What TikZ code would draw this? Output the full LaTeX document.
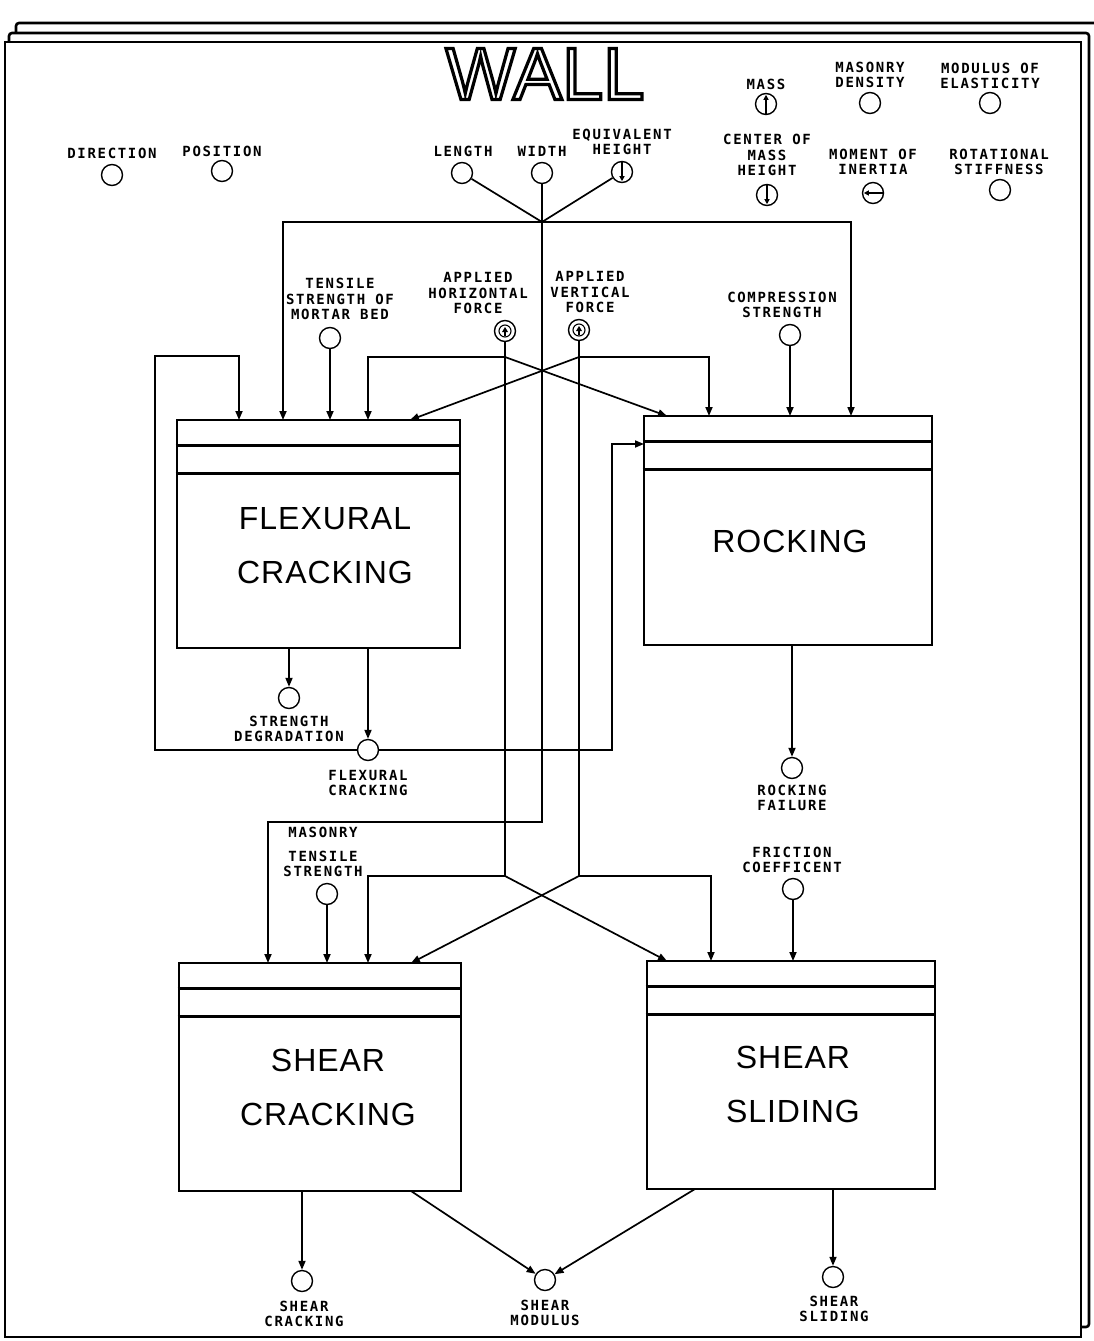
\documentclass[tikz,border=0pt]{standalone}
\usepackage{fontspec}
\usetikzlibrary{arrows.meta,calc}
\newfontfamily\plotfont[LetterSpace=12]{DejaVu Sans Mono}
\newfontfamily\boxfont[LetterSpace=3]{Liberation Sans}
\newfontfamily\titlefont{Liberation Sans}
\newcommand\outlinetext[1]{\special{pdf:literal direct 1 Tr 3.2 w}#1\special{pdf:literal direct 0 Tr}}
\begin{document}
\begin{tikzpicture}[x=1pt,y=-1pt,
  conn/.style={line width=1.7pt},
  arr/.style={conn,-{Triangle[length=9pt,width=7pt]}},
  sym/.style={line width=1.2pt,-{Triangle[length=5pt,width=5pt]}},
  var/.style={circle,draw,line width=1.4pt,minimum size=21pt,inner sep=0pt},
  lab/.style={font=\plotfont\bfseries\fontsize{14}{15.5}\selectfont,align=center,inner sep=0pt},
  box/.style={draw,line width=2.8pt,inner sep=0pt},
  btxt/.style={font=\boxfont\fontsize{32}{54}\selectfont,align=center,inner sep=0pt},
  sheet/.style={line width=2.6pt,rounded corners=3pt},
  hline/.style={line width=2.8pt}
]
\useasboundingbox (0,0) rectangle (1093,1341);
% stacked sheets
\draw[sheet] (16,33) -- (16,23) -- (1100,23) -- (1100,1317);
\draw[sheet] (9,42) -- (9,33) -- (1089,33) -- (1089,1327) -- (1081,1327);
\draw[line width=2.8pt] (5,42) rectangle (1081,1337);

% title
\node[font=\titlefont\fontsize{74}{74}\selectfont,inner sep=0pt] (title) at (545,74) {\outlinetext{WALL}};

% ---------- variables (circles) and labels ----------
\node[lab] (dirl) at (112,153) {DIRECTION};
\node[var] (dir) at (112,175) {};
\node[lab] (posl) at (222,151) {POSITION};
\node[var] (pos) at (222,171) {};

\node[lab] (lenl) at (463,151) {LENGTH};
\node[var] (len) at (462,173) {};
\node[lab] (widl) at (542,151) {WIDTH};
\node[var] (wid) at (542,173) {};
\node[lab] (eqhl) at (622,142) {EQUIVALENT\\HEIGHT};
\node[var] (eqh) at (622,172) {};

\node[lab] (massl) at (766,84) {MASS};
\node[var] (mass) at (766,104) {};
\node[lab] (mdenl) at (870,75) {MASONRY\\DENSITY};
\node[var] (mden) at (870,103) {};
\node[lab] (moel) at (990,76) {MODULUS OF\\ELASTICITY};
\node[var] (moe) at (990,103) {};
\node[lab] (cmhl) at (767,155) {CENTER OF\\MASS\\HEIGHT};
\node[var] (cmh) at (767,195) {};
\node[lab] (moil) at (873,162) {MOMENT OF\\INERTIA};
\node[var] (moi) at (873,193) {};
\node[lab] (rstl) at (999,162) {ROTATIONAL\\STIFFNESS};
\node[var] (rst) at (1000,190) {};

\node[lab] (tsmbl) at (340,299) {TENSILE\\STRENGTH OF\\MORTAR BED};
\node[var] (tsmb) at (330,338) {};
\node[lab] (ahfl) at (478,293) {APPLIED\\HORIZONTAL\\FORCE};
\node[var] (ahf) at (505,331) {};
\node[lab] (avfl) at (590,292) {APPLIED\\VERTICAL\\FORCE};
\node[var] (avf) at (579,330) {};
\node[lab] (csl) at (782,305) {COMPRESSION\\STRENGTH};
\node[var] (cs) at (790,335) {};

\node[var] (sd) at (289,698) {};
\node[lab] (sdl) at (289,729) {STRENGTH\\DEGRADATION};
\node[var] (fc) at (368,750) {};
\node[lab] (fcl) at (368,783) {FLEXURAL\\CRACKING};
\node[var] (rf) at (792,768) {};
\node[lab] (rfl) at (792,798) {ROCKING\\FAILURE};

\node[lab] (mtsl) at (323,852) {MASONRY\\[8pt]TENSILE\\STRENGTH};
\node[var] (mts) at (327,894) {};
\node[lab] (fcol) at (792,860) {FRICTION\\COEFFICENT};
\node[var] (fco) at (793,889) {};

\node[var] (sc) at (302,1281) {};
\node[lab] (scl) at (304,1314) {SHEAR\\CRACKING};
\node[var] (sm) at (545,1280) {};
\node[lab] (sml) at (545,1313) {SHEAR\\MODULUS};
\node[var] (ss) at (833,1277) {};
\node[lab] (ssl) at (834,1309) {SHEAR\\SLIDING};

% symbols inside circles
\draw[sym] (eqh.north) -- ([yshift=2pt]eqh.south);
\draw[sym] (cmh.north) -- ([yshift=2pt]cmh.south);
\draw[sym] (mass.south) -- ([yshift=-2pt]mass.north);
\draw[sym] (moi.east) -- ([xshift=2pt]moi.west);
\foreach \v in {ahf,avf}{
  \draw[line width=1.1pt] (\v.center) circle[radius=6];
  \fill ([yshift=4pt]\v.center) -- ([xshift=-3pt,yshift=-1pt]\v.center) -- ([xshift=3pt,yshift=-1pt]\v.center) -- cycle;
  \draw[line width=1.1pt] (\v.center) -- ([yshift=-5pt]\v.center);
}

% ---------- process boxes ----------
\node[box,minimum width=283pt,minimum height=228pt] (flex) at (318.5,534) {};
\node[box,minimum width=288pt,minimum height=229pt] (rock) at (788,530.5) {};
\node[box,minimum width=282pt,minimum height=228pt] (shc) at (320,1077) {};
\node[box,minimum width=288pt,minimum height=228pt] (shs) at (791,1075) {};
\foreach \b in {flex,rock,shc,shs}{
  \draw[hline] ([yshift=-27pt]\b.north west) -- ([yshift=-27pt]\b.north east);
  \draw[hline] ([yshift=-55pt]\b.north west) -- ([yshift=-55pt]\b.north east);
}
\node[btxt] (flext) at (325,546) {FLEXURAL\\CRACKING};
\node[btxt] (rockt) at (790,541) {ROCKING};
\node[btxt] (shct) at (328,1087) {SHEAR\\CRACKING};
\node[btxt] (shst) at (793,1084) {SHEAR\\SLIDING};

% ---------- entry points ----------
\coordinate (f1) at (239,420);
\coordinate (f2) at (283,420);
\coordinate (f3) at (330,420);
\coordinate (f4) at (368,420);
\coordinate (f5) at (410,420);
\coordinate (r1) at (667,416);
\coordinate (r2) at (709,416);
\coordinate (r3) at (790,416);
\coordinate (r4) at (851,416);
\coordinate (rin) at (644,444);
\coordinate (c1) at (268,963);
\coordinate (c2) at (327,963);
\coordinate (c3) at (368,963);
\coordinate (c4) at (411,963);
\coordinate (s1) at (667,961);
\coordinate (s2) at (711,961);
\coordinate (s3) at (793,961);

% ---------- connectors ----------
\coordinate (dimj) at (542,222);
\coordinate (diml) at (542,822);
\draw[conn] (len) -- (dimj);
\draw[conn] (wid) -- (dimj);
\draw[conn] (eqh) -- (dimj);
\draw[arr] (dimj) -| (f2);
\draw[arr] (dimj) -| (r4);
\draw[arr] (dimj) -- (diml) -| (c1);

\draw[arr] (tsmb) -- (f3);
\draw[arr] (cs) -- (r3);
\draw[arr] (mts) -- (c2);
\draw[arr] (fco) -- (s3);

\coordinate (ahfa) at (505,357);
\coordinate (ahfb) at (505,876);
\coordinate (avfa) at (579,357);
\coordinate (avfb) at (579,876);
\draw[conn] (ahf) -- (ahfb);
\draw[conn] (avf) -- (avfb);
\draw[arr] (ahfa) -| (f4);
\draw[arr] (ahfa) -- (r1);
\draw[arr] (avfa) -| (r2);
\draw[arr] (avfa) -- (f5);
\draw[arr] (ahfb) -| (c3);
\draw[arr] (ahfb) -- (s1);
\draw[arr] (avfb) -| (s2);
\draw[arr] (avfb) -- (c4);

% feedback of flexural cracking
\coordinate (lp1) at (155,750);
\coordinate (lp2) at (155,356);
\coordinate (rp1) at (612,750);
\coordinate (rp2) at (612,444);
\draw[arr] (fc) -- (lp1) -- (lp2) -| (f1);
\draw[arr] (fc) -- (rp1) -- (rp2) -- (rin);

% outputs
\draw[arr] (sd |- flex.south) -- (sd);
\draw[arr] (fc |- flex.south) -- (fc);
\draw[arr] (rf |- rock.south) -- (rf);
\draw[arr] (sc |- shc.south) -- (sc);
\coordinate (sma) at (411,1191);
\coordinate (smb) at (695,1189);
\draw[arr] (sma) -- (sm);
\draw[arr] (smb) -- (sm);
\draw[arr] (ss |- shs.south) -- (ss);
\end{tikzpicture}
\end{document}
